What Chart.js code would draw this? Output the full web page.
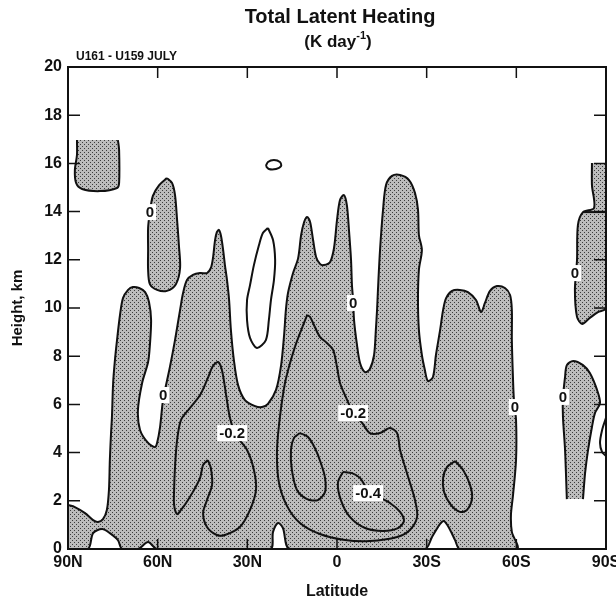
<!DOCTYPE html>
<html>
<head>
<meta charset="utf-8">
<script src="https://cdn.jsdelivr.net/npm/chart.js@4.4.0/dist/chart.umd.min.js"></script>
<style>
  html, body { margin: 0; padding: 0; background: #fff; }
  #wrap { width: 616px; height: 599px; }
</style>
</head>
<body>
<div id="wrap"><canvas id="heatChart"></canvas></div>
<script>
// latitude in degrees (north positive), height in km
const latTicks = [90, 60, 30, 0, -30, -60, -90];
const heightTicks = [0, 2, 4, 6, 8, 10, 12, 14, 16, 18, 20];

// shaded (negative) areas, [lat, km]
const negMain = [
  [90,1.83],[87.7,1.74],[84.3,1.49],[81.6,1.20],[80.0,1.12],[78.3,1.24],[77.0,1.62],[76.3,2.45],[76.0,3.69],
  [75.6,4.81],[75.3,5.48],[74.9,6.89],[74.3,7.84],[73.6,8.67],[72.6,9.71],[71.6,10.41],[69.9,10.75],[68.3,10.87],
  [66.2,10.83],[64.2,10.66],[62.9,10.25],[62.2,9.50],[62.6,8.46],[63.2,7.76],[65.2,6.89],[66.6,5.77],[65.9,4.94],
  [63.2,4.40],[60.9,4.23],[60.2,4.40],[59.2,5.06],[58.2,6.18],[55.9,7.55],[54.2,8.67],[52.5,9.92],[51.5,10.62],
  [50.2,11.16],[48.2,11.37],[45.8,11.45],[43.5,11.45],[42.2,11.66],[41.5,12.07],[40.8,12.82],[40.2,13.15],
  [39.5,13.24],[38.8,12.99],[38.1,12.41],[37.5,11.78],[36.8,11.16],[36.1,10.33],[35.5,9.09],[34.5,7.84],
  [33.1,6.80],[30.8,6.18],[27.4,5.93],[25.1,5.89],[23.1,6.02],[20.4,6.60],[18.7,7.63],[17.7,8.88],[17.1,9.92],
  [16.4,10.62],[14.7,11.45],[13.0,12.07],[12.0,13.03],[11.0,13.57],[10.0,13.78],[9.0,13.57],[8.0,12.82],
  [7.0,12.12],[5.7,11.83],[4.4,11.78],[2.3,11.91],[1.0,12.49],[0,13.65],[-1.0,14.48],[-2.3,14.69],[-3.3,14.27],
  [-4.0,13.24],[-4.7,11.99],[-5.0,10.95],[-5.4,10.33],[-5.7,9.50],[-6.7,8.46],[-7.7,7.72],[-9.4,7.34],
  [-11.0,7.47],[-12.4,8.05],[-13.0,9.09],[-13.4,9.92],[-13.7,10.75],[-14.4,12.41],[-15.4,14.07],[-16.4,15.10],
  [-18.4,15.48],[-21.1,15.52],[-24.1,15.31],[-26.1,14.77],[-27.1,14.07],[-27.4,13.03],[-28.4,12.41],
  [-27.4,11.58],[-27.1,10.33],[-27.4,9.09],[-28.4,8.05],[-29.4,7.43],[-30.4,6.97],[-32.1,7.14],[-33.1,8.05],
  [-34.5,9.09],[-35.5,9.92],[-36.5,10.41],[-38.5,10.71],[-41.1,10.75],[-43.8,10.66],[-46.5,10.33],[-48.2,9.83],
  [-49.5,10.21],[-51.2,10.71],[-53.5,10.91],[-56.2,10.83],[-57.9,10.54],[-58.5,9.92],[-58.5,8.67],[-58.9,7.01],
  [-59.2,6.18],[-59.9,5.35],[-59.9,3.69],[-58.9,2.24],[-58.2,1.41],[-58.5,0.71],[-60.2,0],[-41.1,0],
  [-39.5,0.37],[-37.5,0.87],[-35.8,1.16],[-34.5,1.04],[-31.8,0.50],[-29.4,0],[15.7,0],[18.1,0.87],[19.7,1.08],
  [21.4,0.71],[22.4,0],[60.2,0],[63.2,0.29],[66.6,0],[71.9,0],[73.3,0.37],[76.0,0.66],[78.6,0.83],[81.6,0.66],
  [83.3,0],[90,0]
];
const negCap75N = [
  [87.0,16.97],[87.0,16.35],[87.7,15.73],[87.3,15.19],[85.3,14.94],[79.3,14.85],[73.6,14.98],[72.9,15.19],
  [72.9,16.56],[73.3,16.97]
];
const neg60N = [
  [56.9,15.39],[55.2,15.19],[54.2,14.69],[53.5,13.65],[52.9,12.61],[52.5,11.66],[53.9,10.99],[56.9,10.71],
  [60.2,10.75],[62.6,10.99],[63.2,11.58],[63.2,12.41],[63.2,13.32],[62.6,13.98],[61.6,14.65],[59.5,15.10],
  [56.9,15.39]
];
const neg75S = [
  [-76.9,2.07],[-76.3,4.11],[-75.6,5.48],[-75.6,6.27],[-76.3,7.14],[-76.9,7.63],[-79.0,7.80],[-82.3,7.63],
  [-84.6,7.30],[-87.0,6.60],[-88.0,6.06],[-86.3,5.64],[-85.3,5.06],[-84.0,4.11],[-83.0,3.15],[-82.3,2.07]
];
const neg90S = [
  [-85.3,16.02],[-85.3,15.10],[-86.0,14.15],[-82.3,13.98],[-80.6,13.44],[-80.3,11.99],[-79.6,10.75],
  [-80.3,9.63],[-82.0,9.34],[-84.6,9.59],[-87.3,9.83],[-90,10.00],[-90,16.02]
];

// other isolines, [lat, km]
const m02North = [
  [43.2,3.69],[44.8,3.49],[45.8,2.95],[48.2,2.37],[50.5,1.91],[52.2,1.62],[53.5,1.45],[54.5,1.83],[54.5,2.45],
  [54.2,3.40],[53.5,4.52],[52.2,5.35],[49.2,5.85],[45.8,6.39],[43.2,7.10],[41.5,7.59],[39.8,7.76],[38.5,7.43],
  [37.1,6.39],[35.8,5.44],[33.8,4.73],[30.1,4.11],[27.8,3.28],[27.1,2.45],[29.1,1.62],[32.5,0.91],[37.5,0.58],
  [40.2,0.58],[43.5,0.91],[44.8,1.49],[43.5,2.03],[41.8,2.66],[42.2,3.36],[43.2,3.69]
];
const m02Equator = [
  [10.0,9.71],[9.0,9.63],[7.4,9.21],[5.7,8.80],[3.4,8.55],[1.3,8.26],[0,7.55],[-1.0,6.89],[-3.4,6.18],
  [-5.4,5.64],[-8.4,5.23],[-11.0,4.81],[-14.4,4.81],[-17.7,5.02],[-20.1,4.81],[-21.1,4.11],[-23.4,3.15],
  [-26.1,2.03],[-26.8,1.33],[-24.4,0.79],[-20.1,0.50],[-11.0,0.33],[-2.7,0.37],[5.7,0.62],[12.4,1.08],
  [16.7,1.78],[19.4,2.74],[20.1,3.90],[19.4,5.15],[17.4,6.89],[14.4,8.26],[11.7,9.17],[10.0,9.71]
];
const m04North = [
  [12.4,4.81],[9.7,4.65],[7.4,4.19],[5.4,3.57],[4.0,2.95],[4.0,2.37],[6.4,2.03],[10.0,2.07],[13.4,2.45],
  [15.1,3.28],[15.4,4.11],[14.4,4.61],[12.4,4.81]
];
const m04South = [
  [-2.0,3.20],[-5.0,3.15],[-7.7,2.95],[-9.7,2.57],[-12.7,2.24],[-17.7,1.91],[-21.1,1.54],[-22.4,1.16],
  [-20.4,0.87],[-15.4,0.75],[-9.4,0.87],[-4.3,1.33],[-1.3,2.03],[-0.3,2.74],[-2.0,3.20]
];
const m02South = [
  [-39.5,3.65],[-42.2,3.28],[-44.5,2.66],[-45.2,2.12],[-43.5,1.62],[-41.1,1.54],[-38.1,1.83],[-35.8,2.37],
  [-35.5,2.95],[-36.8,3.40],[-39.5,3.65]
];
const posLoop20N = [
  [23.1,13.32],[21.4,12.82],[20.7,11.99],[21.1,11.16],[22.1,10.33],[22.8,9.50],[23.8,8.67],[26.8,8.34],
  [29.1,8.76],[30.1,9.50],[30.1,10.33],[29.1,10.95],[27.8,11.78],[26.1,12.61],[24.8,13.11],[23.1,13.32]
];
const posOval20N = [
  [23.8,15.89],[23.1,16.06],[21.1,16.14],[19.1,16.06],[18.7,15.89],[20.4,15.77],[22.8,15.77],[23.8,15.89]
];
const edge90S = [[-90,5.44],[-88.7,4.94],[-88.0,4.40],[-88.7,4.02],[-90,3.86]];
const step90S = [[-82.3,13.98],[-90,13.98]];

// contour labels
const labelText = ['0', '0', '0', '0', '0', '0', '-0.2', '-0.2', '-0.4'];
const labelLat = [62.6, 58.2, -5.4, -59.5, -75.6, -79.6, 35.1, -5.4, -10.4];
const labelKm = [13.98, 6.39, 10.21, 5.89, 6.31, 11.45, 4.81, 5.64, 2.32];

const FONT = '"Liberation Sans", Arial, Helvetica, sans-serif';
Chart.defaults.font.family = FONT;
Chart.defaults.color = '#111';

function stipple() {
  const c = document.createElement('canvas');
  c.width = 4; c.height = 4;
  const g = c.getContext('2d');
  g.fillStyle = '#bcbcbc';
  g.fillRect(0, 0, 4, 4);
  g.fillStyle = '#3c3c3c';
  g.fillRect(0, 0, 1, 1);
  g.fillRect(2, 2, 1, 1);
  return g.createPattern(c, 'repeat');
}
const dots = stipple();

const toXY = arr => arr.map(p => ({ x: p[0], y: p[1] }));
const shaded = [negMain, negCap75N, neg60N, neg75S, neg90S];
const isolines = [m02North, m02Equator, m04North, m04South, m02South, posLoop20N, posOval20N, edge90S, step90S];

const frame = {
  id: 'frame',
  afterDatasetsDraw(chart) {
    const { ctx, chartArea: a, scales: { x, y } } = chart;
    ctx.save();
    ctx.strokeStyle = '#111';
    ctx.lineWidth = 2;
    ctx.strokeRect(a.left, a.top, a.right - a.left, a.bottom - a.top);
    ctx.lineWidth = 1.5;
    ctx.beginPath();
    latTicks.slice(1, -1).forEach(v => {
      const px = x.getPixelForValue(v);
      ctx.moveTo(px, a.top); ctx.lineTo(px, a.top + 11);
      ctx.moveTo(px, a.bottom); ctx.lineTo(px, a.bottom - 10);
    });
    heightTicks.slice(1, -1).forEach(v => {
      const py = y.getPixelForValue(v);
      ctx.moveTo(a.left, py); ctx.lineTo(a.left + 12, py);
      ctx.moveTo(a.right, py); ctx.lineTo(a.right - 12, py);
    });
    ctx.stroke();
    ctx.restore();
  }
};

const contourLabels = {
  id: 'contourLabels',
  afterDatasetsDraw(chart) {
    const { ctx, scales: { x, y } } = chart;
    ctx.save();
    ctx.font = 'bold 15px ' + FONT;
    ctx.textAlign = 'center';
    ctx.textBaseline = 'middle';
    labelText.forEach((t, i) => {
      const px = x.getPixelForValue(labelLat[i]);
      const py = y.getPixelForValue(labelKm[i]);
      const w = ctx.measureText(t).width + 4;
      ctx.fillStyle = '#fff';
      ctx.fillRect(px - w / 2, py - 8, w, 16);
      ctx.fillStyle = '#111';
      ctx.fillText(t, px, py + 1);
    });
    ctx.restore();
  }
};

const header = {
  id: 'header',
  afterDraw(chart) {
    const ctx = chart.ctx;
    ctx.save();
    ctx.fillStyle = '#111';
    ctx.textBaseline = 'middle';
    ctx.textAlign = 'center';
    ctx.font = 'bold 20px ' + FONT;
    ctx.fillText('Total Latent Heating', 340, 17);

    // (K day⁻¹) with a raised exponent
    ctx.textAlign = 'left';
    ctx.font = 'bold 17px ' + FONT;
    const a = '(K day', c = ')';
    const wa = ctx.measureText(a).width, wc = ctx.measureText(c).width;
    ctx.font = 'bold 11px ' + FONT;
    const b = '-1', wb = ctx.measureText(b).width;
    let x0 = 338 - (wa + wb + wc) / 2;
    ctx.font = 'bold 17px ' + FONT;
    ctx.fillText(a, x0, 42);
    ctx.font = 'bold 11px ' + FONT;
    ctx.fillText(b, x0 + wa, 36);
    ctx.font = 'bold 17px ' + FONT;
    ctx.fillText(c, x0 + wa + wb, 42);

    ctx.font = 'bold 12px ' + FONT;
    ctx.fillText('U161 - U159 JULY', 76, 57);
    ctx.restore();
  }
};

new Chart(document.getElementById('heatChart'), {
  type: 'scatter',
  data: {
    datasets: [
      ...shaded.map(d => ({
        data: toXY(d),
        showLine: true,
        fill: 'shape',
        backgroundColor: dots,
        borderColor: '#111',
        borderWidth: 2,
        pointRadius: 0,
        tension: 0.3
      })),
      ...isolines.map(d => ({
        data: toXY(d),
        showLine: true,
        fill: false,
        borderColor: '#111',
        borderWidth: 2,
        pointRadius: 0,
        tension: 0.3
      }))
    ]
  },
  options: {
    responsive: true,
    maintainAspectRatio: false,
    animation: false,
    events: [],
    layout: { padding: { top: 67, right: 10, left: 0, bottom: 0 } },
    plugins: {
      legend: { display: false },
      tooltip: { enabled: false },
      filler: { drawTime: 'beforeDatasetsDraw' }
    },
    scales: {
      x: {
        type: 'linear',
        min: -90,
        max: 90,
        reverse: true,
        afterBuildTicks: s => { s.ticks = latTicks.map(v => ({ value: v })); },
        afterFit: s => { s.height = 50; s.paddingLeft = 0; s.paddingRight = 0; },
        ticks: {
          font: { size: 16, weight: 'bold' },
          padding: 4,
          maxRotation: 0,
          callback: v => v > 0 ? v + 'N' : v < 0 ? (-v) + 'S' : '0'
        },
        grid: { display: false, drawTicks: false },
        border: { display: false },
        title: {
          display: true,
          text: 'Latitude',
          font: { size: 16, weight: 'bold', lineHeight: 1 },
          padding: { top: 0, bottom: -1 }
        }
      },
      y: {
        type: 'linear',
        min: 0,
        max: 20,
        afterBuildTicks: s => { s.ticks = heightTicks.map(v => ({ value: v })); },
        afterFit: s => { s.width = 68; s.paddingTop = 0; s.paddingBottom = 0; },
        ticks: {
          font: { size: 16, weight: 'bold' },
          padding: 6
        },
        grid: { display: false, drawTicks: false },
        border: { display: false },
        title: {
          display: true,
          text: 'Height, km',
          font: { size: 15, weight: 'bold', lineHeight: 1 },
          padding: { top: 10, bottom: 0 }
        }
      }
    }
  },
  plugins: [frame, contourLabels, header]
});
</script>
</body>
</html>
